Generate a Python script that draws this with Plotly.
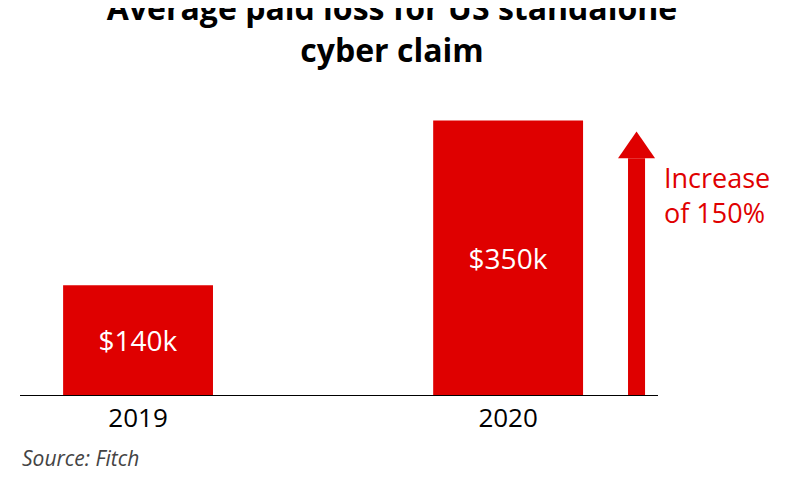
import plotly.graph_objects as go

years = ["2019", "2020"]
values = [140, 350]
labels = ["$140k", "$350k"]
red = "#df0000"

fig = go.Figure(go.Bar(
    x=[0, 1], y=values, width=0.405, marker_color=red, marker_line_width=0,
    text=labels, textposition="inside", insidetextanchor="middle",
    textfont=dict(color="white", size=28, family="Open Sans"),
))

fig.add_shape(type="rect", x0=1.324, x1=1.370, y0=0, y1=302,
              fillcolor=red, line_width=0)
fig.add_shape(type="path", path="M 1.297 302 L 1.397 302 L 1.347 336 Z",
              fillcolor=red, line_width=0)

fig.add_annotation(x=1, xref="paper", xanchor="left", xshift=4, y=0.83, yref="paper",
                   text="Increase<br>of 150%", showarrow=False, align="left",
                   font=dict(color=red, size=27, family="Open Sans"))
fig.add_annotation(x=385, xref="x domain", y=1, yref="paper", showarrow=False,
                   text="")
fig.add_annotation(x=0, xref="paper", xanchor="left", y=-0.22, yref="paper",
                   yanchor="middle", text="<i>Source: Fitch</i>", showarrow=False,
                   font=dict(color="#444444", size=21, family="Open Sans"))

fig.update_layout(
    width=800, height=481, margin=dict(l=12, r=150, t=100, b=94),
    plot_bgcolor="white", paper_bgcolor="white", showlegend=False,
    title=dict(text="<b>Average paid loss for US standalone<br>cyber claim</b>",
               x=0.48, xanchor="center", y=0.975, yanchor="top",
               font=dict(size=32, color="black", family="Open Sans")),
    xaxis=dict(range=[-0.319, 1.405], tickvals=[0, 1], ticktext=years,
               showgrid=False, showline=True, linecolor="black", linewidth=1,
               tickfont=dict(size=26, color="black", family="Open Sans"), zeroline=False),
    yaxis=dict(range=[0, 366], visible=False),
)
fig.write_html("out.html")
